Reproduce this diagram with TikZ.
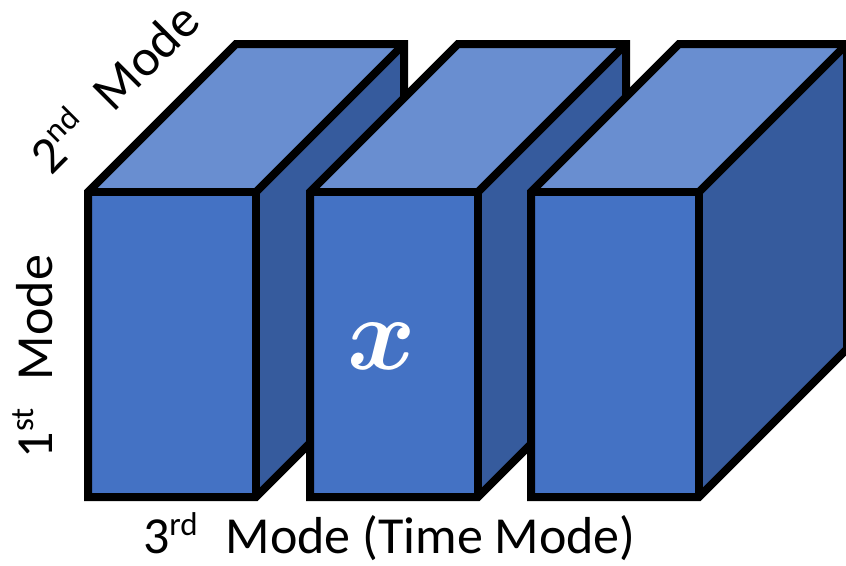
\RequirePackage{fix-cm}
\documentclass[tikz,border=0pt]{standalone}
\usepackage{fontspec}
\setmainfont{Carlito}
\newcommand\supx[1]{\raisebox{18pt}{\fontsize{33}{33}\selectfont #1}}
\newcommand\modelabel[2]{\fontsize{52}{62}\selectfont #1\supx{#2}\hspace{28pt}Mode}
\newsavebox\tensorbox
\begin{document}
\sbox\tensorbox{\color{white}\fontsize{104}{104}\selectfont\boldmath$x$}%
\begin{tikzpicture}[x=1pt,y=-1pt,
  edge/.style={draw=black,line width=8pt,line join=miter},
  lbl/.style={inner sep=0pt,outer sep=0pt,text=black}]
\definecolor{cubefront}{HTML}{4472C4}
\definecolor{cubetop}{HTML}{698ED0}
\definecolor{cubeside}{HTML}{365B9D}
\useasboundingbox (0,0) rectangle (846,565);
% three slices of the tensor, drawn from left to right
\def\w{168}\def\d{148}\def\ytop{192}\def\ybot{497}
\foreach \L in {88,310,531}{
  % faces
  \fill[cubetop] (\L,\ytop) -- (\L+\d,\ytop-\d) -- (\L+\w+\d,\ytop-\d) -- (\L+\w,\ytop) -- cycle;
  \fill[cubeside] (\L+\w,\ytop) -- (\L+\w+\d,\ytop-\d) -- (\L+\w+\d,\ybot-\d) -- (\L+\w,\ybot) -- cycle;
  \fill[cubefront] (\L,\ytop) rectangle (\L+\w,\ybot);
  % outline and inner edges
  \draw[edge] (\L,\ybot) -- (\L,\ytop) -- (\L+\d,\ytop-\d) -- (\L+\w+\d,\ytop-\d)
     -- (\L+\w+\d,\ybot-\d) -- (\L+\w,\ybot) -- cycle;
  \draw[edge] (\L,\ytop) -- (\L+\w,\ytop) -- (\L+\w,\ybot);
  \draw[edge] (\L+\w,\ytop) -- (\L+\w+\d,\ytop-\d);
}
% tensor symbol on the middle slice
\node[lbl,text=white] (tensor) at (382,346) {\usebox\tensorbox};
% mode labels
\node[lbl,anchor=base west] (third) at (143,553) {\modelabel{3}{rd} (Time Mode)};
\node[lbl,anchor=base west,rotate=90] (first) at (52,458) {\modelabel{1}{st}};
\node[lbl,anchor=base west,rotate=45] (second) at (51,176) {\modelabel{2}{nd}};
\end{tikzpicture}
\end{document}
